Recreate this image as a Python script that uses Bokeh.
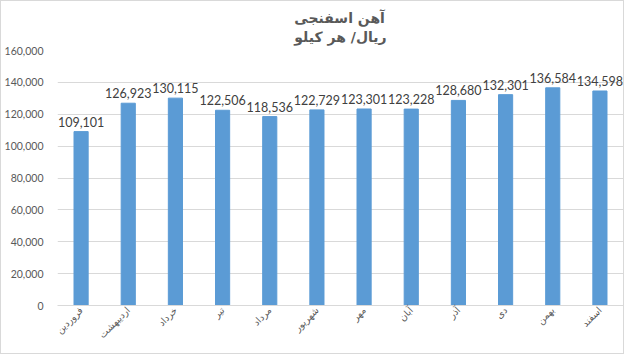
import math
from bokeh.plotting import figure
from bokeh.models import ColumnDataSource, NumeralTickFormatter, Range1d
from bokeh.core.properties import value
from bokeh.embed import file_html
from bokeh.resources import INLINE

months = ["فروردین", "اردیبهشت", "خرداد", "تیر", "مرداد", "شهریور",
          "مهر", "آبان", "آذر", "دی", "بهمن", "اسفند"]
prices = [109101, 126923, 130115, 122506, 118536, 122729,
          123301, 123228, 128680, 132301, 136584, 134598]
labels = [f"{v:,}" for v in prices]
title_text = "آهن اسفنجی\nریال/ هر کیلو"

src = ColumnDataSource(dict(m=months, v=prices, lab=labels))

p = figure(width=624, height=354, x_range=months, y_range=Range1d(0, 160000),
           output_backend="svg", toolbar_location=None,
           min_border_left=52, min_border_right=2, min_border_top=49, min_border_bottom=50)
p.styles = {"border": "1px solid #d9d9d9", "box-sizing": "border-box"}

p.title.text = title_text
p.title.align = "center"
p.title.text_font = "DejaVu Sans"
p.title.text_font_size = "14px"
p.title.text_font_style = "bold"
p.title.text_color = "#595959"
p.title.text_line_height = 1.2

p.vbar(x="m", top="v", width=0.3, source=src, color="#5b9bd5")
p.text(x="m", y="v", text="lab", source=src, text_align="center", text_baseline="bottom",
       y_offset=-5, text_font=value("Lato"), text_font_size="12.5px", text_color="#404040")

p.outline_line_color = None
p.xgrid.grid_line_color = None
p.ygrid.grid_line_color = "#d9d9d9"
p.yaxis.ticker.desired_num_ticks = 9
p.yaxis.formatter = NumeralTickFormatter(format="0,0")
p.yaxis.axis_line_color = None
p.yaxis.major_tick_line_color = None
p.yaxis.major_tick_out = 0
p.yaxis.major_tick_in = 0
p.yaxis.minor_tick_line_color = None
p.yaxis.major_label_standoff = 10
p.yaxis.major_label_text_font = "Lato"
p.yaxis.major_label_text_font_size = "10.5px"
p.yaxis.major_label_text_color = "#595959"

p.xaxis.axis_line_color = "#d9d9d9"
p.xaxis.major_tick_line_color = None
p.xaxis.major_tick_out = 0
p.xaxis.major_tick_in = 0
p.xaxis.major_label_standoff = 3
p.xaxis.major_label_orientation = math.pi / 4
p.xaxis.major_label_text_font = "DejaVu Sans"
p.xaxis.major_label_text_font_size = "9.5px"
p.xaxis.major_label_text_color = "#595959"

open("out.html", "w").write(file_html(p, INLINE))
